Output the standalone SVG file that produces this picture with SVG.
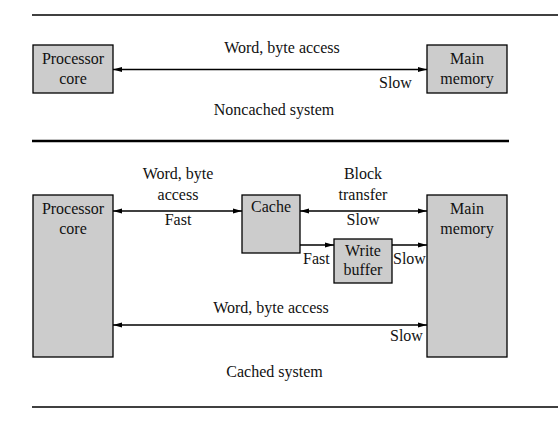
<svg xmlns="http://www.w3.org/2000/svg" width="558" height="423" viewBox="0 0 558 423">
<style>
.box{fill:#cccccc;stroke:#000;stroke-width:1.3}
.ln{stroke:#000;stroke-width:1.3;fill:none}
.sep{stroke:#000;stroke-width:1.3}
text{font-family:"Liberation Serif","Times New Roman",serif;font-size:16px;fill:#111}
.m{text-anchor:middle}
</style>
<defs>
<marker id="ah" markerUnits="userSpaceOnUse" markerWidth="10" markerHeight="6" refX="9" refY="3" orient="auto-start-reverse">
<path d="M0,0.5 L9,3 L0,5.5 z" fill="#000"/>
</marker>
</defs>
<rect width="558" height="423" fill="#fff"/>
<line class="sep" x1="32" y1="15" x2="558" y2="15"/>
<line x1="32" y1="141" x2="509" y2="141" stroke="#000" stroke-width="2.5"/>
<line class="sep" x1="32" y1="407" x2="558" y2="407"/>

<g id="top-processor">
<rect class="box" x="33" y="45" width="80" height="48"/>
<text class="m" x="73" y="64">Processor</text>
<text class="m" x="73" y="83.5">core</text>
</g>
<g id="top-memory">
<rect class="box" x="427" y="45" width="80" height="48"/>
<text class="m" x="467" y="64">Main</text>
<text class="m" x="467" y="83.5">memory</text>
</g>

<g id="cached-processor">
<rect class="box" x="33" y="195" width="80" height="162"/>
<text class="m" x="73" y="213.5">Processor</text>
<text class="m" x="73" y="233.5">core</text>
</g>
<g id="cache">
<rect class="box" x="242" y="195" width="58" height="58"/>
<text class="m" x="271" y="211.5">Cache</text>
</g>
<g id="write-buffer">
<rect class="box" x="334" y="239" width="58" height="44"/>
<text class="m" x="363" y="255.5">Write</text>
<text class="m" x="363" y="275">buffer</text>
</g>
<g id="cached-memory">
<rect class="box" x="427" y="195" width="80" height="162"/>
<text class="m" x="467" y="213.5">Main</text>
<text class="m" x="467" y="233.5">memory</text>
</g>

<g id="connectors">
<line class="ln" x1="113" y1="69.5" x2="427" y2="69.5" marker-start="url(#ah)" marker-end="url(#ah)"/>
<line class="ln" x1="113" y1="211" x2="242" y2="211" marker-start="url(#ah)" marker-end="url(#ah)"/>
<line class="ln" x1="300" y1="211" x2="427" y2="211" marker-start="url(#ah)" marker-end="url(#ah)"/>
<line class="ln" x1="300" y1="245" x2="334" y2="245" marker-end="url(#ah)"/>
<line class="ln" x1="392" y1="245" x2="427" y2="245" marker-end="url(#ah)"/>
<line class="ln" x1="113" y1="325" x2="427" y2="325" marker-start="url(#ah)" marker-end="url(#ah)"/>
</g>

<g id="labels">
<text class="m" x="282" y="52.5">Word, byte access</text>
<text x="379" y="87.5">Slow</text>
<text class="m" x="274" y="115">Noncached system</text>
<text class="m" x="178" y="179">Word, byte</text>
<text class="m" x="178" y="199.5">access</text>
<text class="m" x="178" y="224.5">Fast</text>
<text class="m" x="363" y="179">Block</text>
<text class="m" x="363" y="199.5">transfer</text>
<text class="m" x="363" y="224.5">Slow</text>
<text x="303" y="263.5">Fast</text>
<text x="393" y="263.5">Slow</text>
<text class="m" x="271" y="313">Word, byte access</text>
<text x="390" y="341">Slow</text>
<text class="m" x="274.5" y="377">Cached system</text>
</g>
</svg>
